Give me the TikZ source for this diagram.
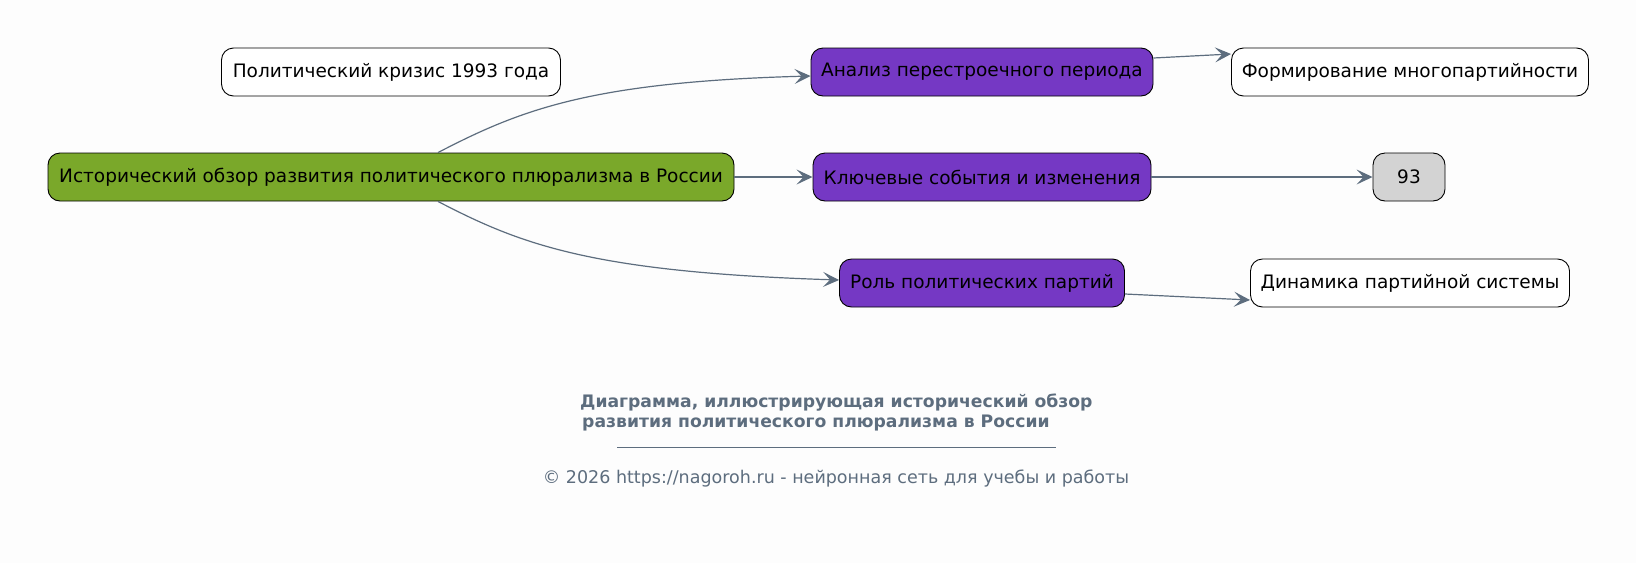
\documentclass[tikz,border=0pt]{standalone}
\usepackage{fontspec}
\setmainfont{DejaVu Sans}
\usetikzlibrary{arrows.meta}
\definecolor{bgc}{HTML}{FDFDFD}
\definecolor{greenf}{HTML}{7AA82A}
\definecolor{purplef}{HTML}{7538C4}
\definecolor{grayf}{HTML}{D3D3D3}
\definecolor{edgec}{HTML}{5D6D7E}
\definecolor{titlec}{HTML}{5D6D7E}
\begin{document}
\begin{tikzpicture}[x=1pt,y=-1pt,
  box/.style={draw=black, rounded corners=12pt, minimum height=48pt, inner sep=0pt,
    font=\fontsize{18.5}{22}\selectfont, line width=0.9pt, text=black},
  wbox/.style={box, fill=white},
  gbox/.style={box, fill=greenf},
  pbox/.style={box, fill=purplef},
  nbox/.style={box, fill=grayf},
  edge/.style={draw=edgec, line width=1.2pt, -{Stealth[length=16pt,width=15pt,inset=7pt]}}]
\fill[bgc] (0,0) rectangle (1636,563);
\useasboundingbox (0,0) rectangle (1636,563);

\node[wbox, minimum width=339pt] (crisis) at (391,72) {Политический кризис 1993 года};
\node[gbox, minimum width=686pt] (main) at (391,177) {Исторический обзор развития политического плюрализма в России};
\node[pbox, minimum width=342pt] (anal) at (982,72) {Анализ перестроечного периода};
\node[pbox, minimum width=338pt] (key) at (982,177) {Ключевые события и изменения};
\node[pbox, minimum width=285pt] (role) at (982,283) {Роль политических партий};
\node[wbox, minimum width=357pt] (form) at (1410,72) {Формирование многопартийности};
\node[nbox, minimum width=72pt] (n93) at (1409,177) {93};
\node[wbox, minimum width=319pt] (dyn) at (1410,283) {Динамика партийной системы};

\draw[edge] ([xshift=47pt]main.north) .. controls (520,110) and (590,82) .. ([yshift=-4pt]anal.west);
\draw[edge] ([xshift=47pt]main.south) .. controls (520,244) and (590,272) .. ([yshift=3pt]role.west);
\draw[edge] (main.east) -- (key.west);
\draw[edge] ([yshift=14pt]anal.east) -- ([yshift=18pt]form.west);
\draw[edge] (key.east) -- (n93.west);
\draw[edge] ([yshift=-11pt]role.east) -- ([yshift=-17pt]dyn.west);

\node[text=titlec, font=\fontsize{17.2}{19.2}\bfseries\selectfont, align=left, anchor=north west, inner sep=0pt] (title) at (580,394)
  {Диаграмма, иллюстрирующая исторический обзор\\\hspace*{2pt}развития политического плюрализма в России};
\coordinate (ul1) at (617,447);
\coordinate (ul2) at (1056,447);
\draw[titlec, line width=0.8pt] (ul1) -- (ul2);
\node[text=titlec, font=\fontsize{17.5}{20}\selectfont, inner sep=0pt] (copy) at (836,479)
  {© 2026 https://nagoroh.ru - нейронная сеть для учебы и работы};
\end{tikzpicture}
\end{document}
